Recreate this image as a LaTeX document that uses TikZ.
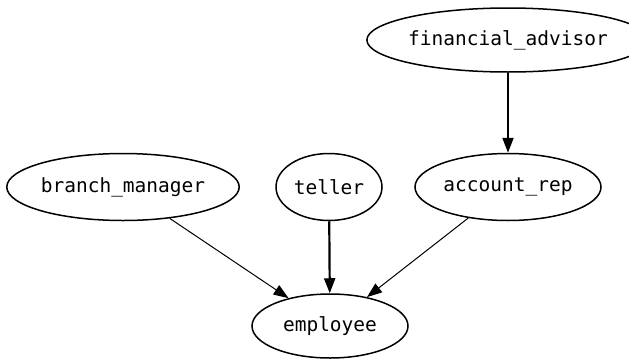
\documentclass[tikz,border=0pt]{standalone}
\usepackage{fontspec}
\setmonofont{DejaVu Sans Mono}
\usetikzlibrary{shapes.geometric,arrows.meta}
\begin{document}
\begin{tikzpicture}[x=1pt,y=-1pt,
  ell/.style={draw=black,line width=1.5pt,ellipse,inner sep=0pt,font=\ttfamily\fontsize{19.5}{22}\selectfont},
  thin edge/.style={draw=black,line width=1pt,-{Triangle[length=15pt,width=11pt]}},
  thick edge/.style={draw=black,line width=2.2pt,-{Triangle[length=15pt,width=11pt]}}]
\useasboundingbox (0,0) rectangle (629,359);
\node[ell,minimum width=240pt,minimum height=64pt] (fa) at (508,40) {financial\_advisor};
\node[ell,minimum width=232pt,minimum height=67pt] (bm) at (123,187) {branch\_manager};
\node[ell,minimum width=106pt,minimum height=67pt] (te) at (329,187) {teller};
\node[ell,minimum width=186pt,minimum height=67pt] (ar) at (508,187) {account\_rep};
\node[ell,minimum width=156pt,minimum height=64pt] (em) at (330,326) {employee};
\draw[thick edge] (fa) -- (ar);
\draw[thick edge] (te) -- (em);
\draw[thin edge] (bm) -- (em);
\draw[thin edge] (ar) -- (em);
\end{tikzpicture}
\end{document}
